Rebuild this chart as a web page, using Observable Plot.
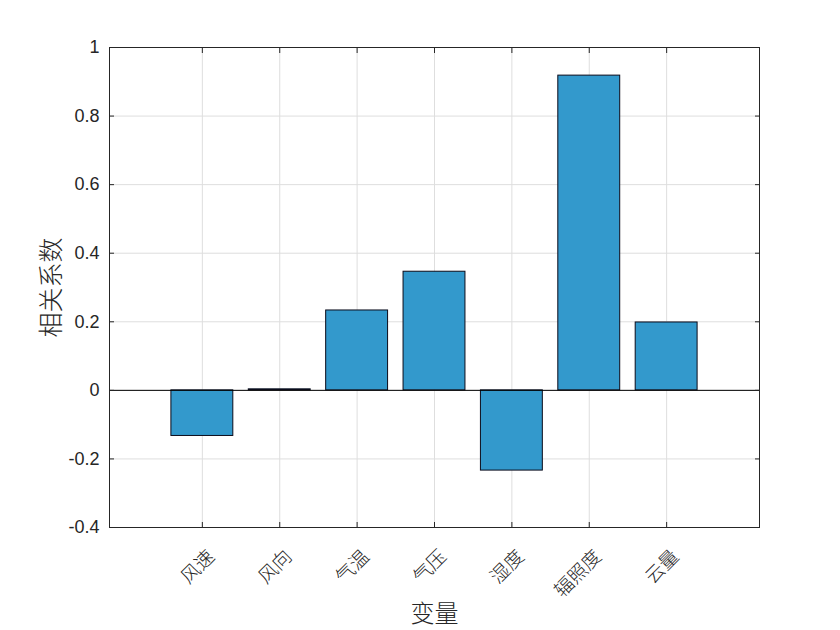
<!DOCTYPE html>
<html>
<head>
<meta charset="utf-8">
<script src="https://cdn.jsdelivr.net/npm/d3@7"></script>
<script src="https://cdn.jsdelivr.net/npm/@observablehq/plot@0.6"></script>
<style>
  html, body { margin: 0; padding: 0; background: #fff; }
  #chart svg { display: block; }
</style>
</head>
<body>
<div id="chart"></div>
<script>
const categories = ["风速", "风向", "气温", "气压", "湿度", "辐照度", "云量"];
const values = [-0.133, 0.003, 0.233, 0.346, -0.234, 0.918, 0.198];
const yTicks = [-0.4, -0.2, 0, 0.2, 0.4, 0.6, 0.8, 1];
const xLabel = "变量";
const yLabel = "相关系数";

const positions = categories.map((_, i) => i + 1);
const data = categories.map((c, i) => ({name: c, pos: positions[i], value: values[i]}));

const cjk = "'Noto Sans CJK SC', sans-serif";
const axisColor = "#262626";
const gridColor = "#dedede";

const chart = Plot.plot({
  width: 840,
  height: 630,
  marginLeft: 109,
  marginRight: 81,
  marginTop: 47,
  marginBottom: 103,
  style: {fontFamily: "'Liberation Sans', Arial, sans-serif", background: "#fff"},
  x: {type: "linear", domain: [-0.2, 8.2], axis: null},
  y: {domain: [-0.4, 1], axis: null},
  marks: [
    Plot.gridX(positions, {stroke: gridColor, strokeOpacity: 1}),
    Plot.gridY(yTicks, {stroke: gridColor, strokeOpacity: 1}),
    Plot.rectY(data, {
      x1: d => d.pos - 0.4,
      x2: d => d.pos + 0.4,
      y1: 0,
      y2: "value",
      fill: "#3399cc",
      stroke: "#0b0b1a",
      strokeWidth: 1
    }),
    Plot.ruleY([0], {stroke: "#000", strokeWidth: 1}),
    Plot.frame({stroke: axisColor, strokeWidth: 1}),
    // inward ticks
    Plot.axisY({anchor: "left", ticks: yTicks, text: null, tickSize: -5, stroke: axisColor, label: null}),
    Plot.axisY({anchor: "right", ticks: yTicks, text: null, tickSize: -5, stroke: axisColor, label: null}),
    Plot.axisX({anchor: "bottom", ticks: positions, text: null, tickSize: -5, stroke: axisColor, label: null}),
    Plot.axisX({anchor: "top", ticks: positions, text: null, tickSize: -5, stroke: axisColor, label: null}),
    // y tick labels
    Plot.axisY({
      anchor: "left", ticks: yTicks, tickSize: 0, tickPadding: 10,
      tickFormat: d => String(d), fontSize: 18, fill: axisColor, label: null
    }),
    // x tick labels (rotated)
    Plot.text(data, {
      x: "pos", text: "name", frameAnchor: "bottom",
      rotate: -45, textAnchor: "end", lineAnchor: "middle",
      dx: 9, dy: 26, fontSize: 19, fill: axisColor,
      fontFamily: cjk, fontWeight: 300
    }),
    // axis titles
    Plot.text([xLabel], {
      text: d => d, frameAnchor: "bottom", dy: 87,
      textAnchor: "middle", lineAnchor: "middle",
      fontSize: 24, fill: axisColor, fontFamily: cjk, fontWeight: 300
    }),
    Plot.text([yLabel], {
      text: d => d, frameAnchor: "left", dx: -58, rotate: -90,
      textAnchor: "middle", lineAnchor: "middle",
      fontSize: 25, fill: axisColor, fontFamily: cjk, fontWeight: 300
    })
  ]
});

document.getElementById("chart").appendChild(chart);
</script>
</body>
</html>
